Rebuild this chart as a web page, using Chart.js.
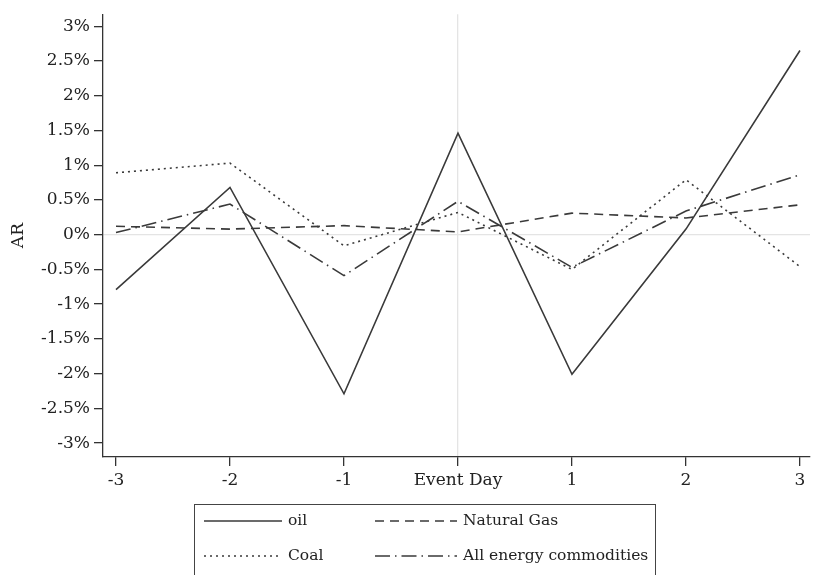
<!DOCTYPE html>
<html>
<head>
<meta charset="utf-8">
<script src="https://cdn.jsdelivr.net/npm/chart.js@4/dist/chart.umd.min.js"></script>
<style>
  html, body { margin: 0; padding: 0; background: #fff; }
  #wrap { width: 816px; height: 575px; }
</style>
</head>
<body>
<div id="wrap"><canvas id="chart" width="816" height="575"></canvas></div>
<script>
// event window days (0 = event day)
const days = [-3, -2, -1, 0, 1, 2, 3];
const yTicks = [-3, -2.5, -2, -1.5, -1, -0.5, 0, 0.5, 1, 1.5, 2, 2.5, 3];

// abnormal returns, in %
const oil = [-0.79, 0.68, -2.29, 1.46, -2.01, 0.08, 2.65];
const naturalGas = [0.12, 0.08, 0.13, 0.04, 0.31, 0.24, 0.43];
const coal = [0.89, 1.03, -0.16, 0.32, -0.50, 0.79, -0.46];
const allEnergy = [0.03, 0.44, -0.59, 0.48, -0.47, 0.34, 0.86];

const FONT = 'DejaVu Serif';
const INK = '#3a3a3a';

const toPoints = vals => days.map((d, i) => ({ x: d, y: vals[i] }));

const series = [
    { label: 'oil', data: oil, dash: [] },
    { label: 'Natural Gas', data: naturalGas, dash: [9, 6] },
    { label: 'Coal', data: coal, dash: [2, 4] },
    { label: 'All energy commodities', data: allEnergy, dash: [15, 5, 1.5, 5] }
];

// legend drawn in a box under the plot, two columns
const boxLegend = {
    id: 'boxLegend',
    afterDraw(chart) {
        const ctx = chart.ctx;
        ctx.save();
        ctx.strokeStyle = '#444';
        ctx.lineWidth = 1;
        ctx.strokeRect(194.5, 504.5, 461, 72);
        ctx.font = '15.5px "' + FONT + '"';
        ctx.fillStyle = '#222';
        ctx.textBaseline = 'middle';
        const cols = [[204, 282, 288], [375, 457, 463]];
        const rows = [521, 556];
        series.forEach((s, i) => {
            const c = cols[i % 2];
            const y = rows[Math.floor(i / 2)];
            ctx.strokeStyle = INK;
            ctx.lineWidth = 1.5;
            ctx.setLineDash(s.dash);
            ctx.beginPath();
            ctx.moveTo(c[0], y);
            ctx.lineTo(c[1], y);
            ctx.stroke();
            ctx.setLineDash([]);
            ctx.fillText(s.label, c[2], y);
        });
        ctx.restore();
    }
};

new Chart(document.getElementById('chart'), {
    type: 'line',
    data: {
        datasets: series.map(s => ({
            label: s.label,
            data: toPoints(s.data),
            borderColor: INK,
            borderWidth: 1.6,
            borderDash: s.dash,
            pointRadius: 0,
            tension: 0,
            fill: false
        }))
    },
    options: {
        responsive: false,
        animation: false,
        layout: { padding: { top: 5, right: 6, bottom: 0, left: 0 } },
        plugins: {
            legend: { display: false },
            tooltip: { enabled: false }
        },
        scales: {
            x: {
                type: 'linear',
                min: -3.114,
                max: 3.088,
                afterBuildTicks: axis => { axis.ticks = days.map(v => ({ value: v })); },
                afterFit: axis => { axis.height = 118; },
                ticks: {
                    color: '#222',
                    font: { family: FONT, size: 17 },
                    padding: 4,
                    maxRotation: 0,
                    callback: v => v === 0 ? 'Event Day' : String(v)
                },
                grid: {
                    color: c => c.tick && c.tick.value === 0 ? '#e4e4e4' : 'rgba(0,0,0,0)',
                    tickColor: '#333',
                    tickLength: 9,
                    lineWidth: 1.3
                },
                border: { display: true, color: '#333', width: 1.3 }
            },
            y: {
                min: -3.2,
                max: 3.173,
                afterBuildTicks: axis => { axis.ticks = yTicks.map(v => ({ value: v })); },
                afterFit: axis => { axis.width = 103; },
                ticks: {
                    color: '#222',
                    font: { family: FONT, size: 17 },
                    padding: 4,
                    callback: v => v + '%'
                },
                title: {
                    display: true,
                    text: 'AR',
                    color: '#222',
                    font: { family: FONT, size: 17 },
                    padding: { top: 8, bottom: 0 }
                },
                grid: {
                    color: c => c.tick && c.tick.value === 0 ? '#e4e4e4' : 'rgba(0,0,0,0)',
                    tickColor: '#333',
                    tickLength: 9,
                    lineWidth: 1.3
                },
                border: { display: true, color: '#333', width: 1.3 }
            }
        }
    },
    plugins: [boxLegend]
});
</script>
</body>
</html>
